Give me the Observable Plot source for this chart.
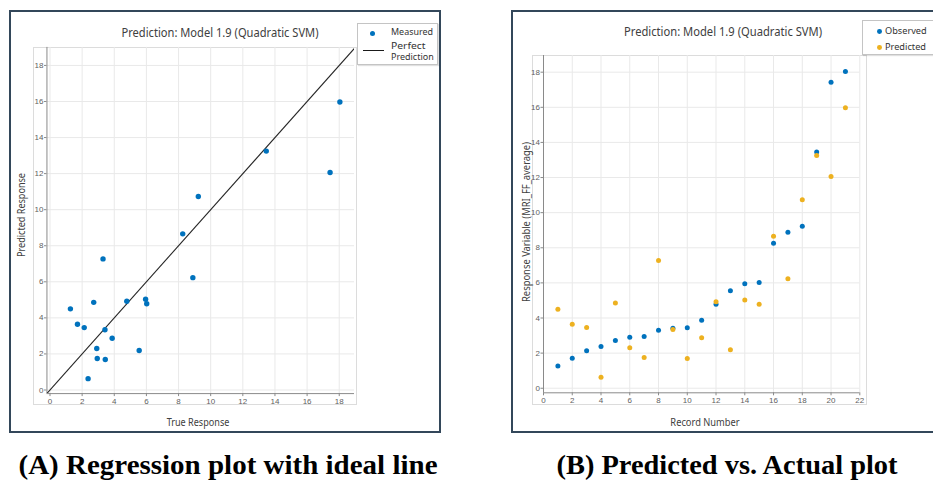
<!DOCTYPE html>
<html><head><meta charset="utf-8">
<script src="https://cdn.jsdelivr.net/npm/d3@7"></script>
<script src="https://cdn.jsdelivr.net/npm/@observablehq/plot@0.6"></script>
<style>
body{margin:0;background:#fff;overflow:hidden;}
#page{position:relative;width:933px;height:481px;overflow:hidden;background:#fff;font-family:"Noto Sans",sans-serif;}
.frame{position:absolute;border:2px solid #33475a;box-sizing:border-box;background:#fff;}
.box{position:absolute;border:1px solid #dcdcdc;box-sizing:border-box;}
.legend{position:absolute;border:1px solid #c4c4c4;box-sizing:border-box;background:#fff;box-shadow:1px 1px 1px rgba(0,0,0,0.12);}
.t{position:absolute;white-space:nowrap;line-height:1;}
.svgwrap{position:absolute;}
.dot{position:absolute;border-radius:50%;}
</style>
</head><body>
<div id="page"></div>
<script>
// ---- data ----
const records   = [1,2,3,4,5,6,7,8,9,10,11,12,13,14,15,16,17,18,19,20,21];
const observed  = [1.27,1.71,2.13,2.37,2.72,2.91,2.94,3.30,3.42,3.44,3.87,4.78,5.55,5.95,6.02,8.26,8.89,9.23,13.46,17.43,18.04];
const predicted = [4.50,3.65,3.46,0.63,4.86,2.30,1.75,7.27,3.34,1.69,2.87,4.92,2.19,5.03,4.78,8.66,6.23,10.73,13.25,12.06,15.97];
const ticksA  = [0,2,4,6,8,10,12,14,16,18];
const ticksBx = [0,2,4,6,8,10,12,14,16,18,20,22];
const ticksBy = [0,2,4,6,8,10,12,14,16,18];
const xDomA = [-0.19, 18.95], yDomA = [-0.2, 19];
const xDomB = [0, 22],        yDomB = [-0.26, 18.95];
const perfectRange = [-0.2, 19];
const titleText = "Prediction: Model 1.9 (Quadratic SVM)";
const BLUE = "#0072BD", ORANGE = "#EDB120";

const page = document.getElementById("page");
function el(cls, css){const d=document.createElement("div");d.className=cls;Object.assign(d.style,css);page.appendChild(d);return d;}

// frames
el("frame",{left:"9px",top:"10px",width:"432px",height:"423px"});
el("frame",{left:"511px",top:"10px",width:"440px",height:"423px"});
// axes boxes
el("box",{left:"33px",top:"47px",width:"324px",height:"358px"});
el("box",{left:"532px",top:"55px",width:"335px",height:"350px"});

const pairs = records.map((r,i)=>({rec:r, obs:observed[i], pred:predicted[i]}));
const tickStyle = {background:"transparent", fontFamily:"'Liberation Sans', Arial, sans-serif", fontSize:"8px", color:"#606060", overflow:"visible"};

// ---- Panel A ----
const plotA = Plot.plot({
  width: 441, height: 432,
  marginLeft: 46.45, marginRight: 87, marginTop: 46.9, marginBottom: 38.9,
  style: tickStyle,
  x: {domain: xDomA},
  y: {domain: yDomA},
  marks: [
    Plot.gridX(ticksA, {stroke:"#e9e9e9", strokeOpacity:1}),
    Plot.gridY(ticksA, {stroke:"#e9e9e9", strokeOpacity:1}),
    Plot.ruleX([xDomA[0]], {stroke:"#8a8a8a"}),
    Plot.ruleY([yDomA[0]], {stroke:"#8a8a8a"}),
    Plot.axisX(ticksA, {tickSize:3, tickPadding:1.5, stroke:"#8a8a8a", fill:"#606060", label:null}),
    Plot.axisY(ticksA, {tickSize:2.5, tickPadding:1, stroke:"#8a8a8a", fill:"#606060", label:null}),
    Plot.link([perfectRange], {x1:d=>d[0], y1:d=>d[0], x2:d=>d[1], y2:d=>d[1], stroke:"#262626", strokeWidth:1.1, clip:true}),
    Plot.dot(pairs, {x:"obs", y:"pred", r:2.7, fill:BLUE, stroke:"none"})
  ]
});
const wa = el("svgwrap",{left:"0px",top:"0px"}); wa.appendChild(plotA);

// ---- Panel B ----
const longB = [];
pairs.forEach(d=>{longB.push({rec:d.rec, v:d.obs, s:"Observed"}); longB.push({rec:d.rec, v:d.pred, s:"Predicted"});});
const plotB = Plot.plot({
  width: 422, height: 432,
  marginLeft: 32, marginRight: 73.7, marginTop: 55, marginBottom: 39.7,
  style: tickStyle,
  x: {domain: xDomB},
  y: {domain: yDomB},
  color: {domain:["Observed","Predicted"], range:[BLUE, ORANGE]},
  marks: [
    Plot.gridX(ticksBx, {stroke:"#e9e9e9", strokeOpacity:1}),
    Plot.gridY(ticksBy, {stroke:"#e9e9e9", strokeOpacity:1}),
    Plot.ruleX([xDomB[0]], {stroke:"#8a8a8a"}),
    Plot.ruleY([yDomB[0]], {stroke:"#8a8a8a"}),
    Plot.axisX(ticksBx, {tickSize:3, tickPadding:1.5, stroke:"#8a8a8a", fill:"#606060", label:null}),
    Plot.axisY(ticksBy, {tickSize:2.5, tickPadding:1, stroke:"#8a8a8a", fill:"#606060", label:null}),
    Plot.dot(longB, {x:"rec", y:"v", fill:"s", r:2.5, stroke:"none"})
  ]
});
const wb = el("svgwrap",{left:"511px",top:"0px"}); wb.appendChild(plotB);

// ---- text helpers (fit text to measured width in reference) ----
function text(str, o){
  const d = el("t",{left:o.x+"px", top:o.y+"px", fontSize:o.size+"px", color:o.color||"#404040",
    fontFamily:o.font||"'Noto Sans', sans-serif", fontWeight:o.weight||"normal"});
  d.textContent = str;
  const w = d.getBoundingClientRect().width;
  const s = o.w ? o.w / w : 1;
  if (o.anchor === "start") {
    d.style.transformOrigin = "0 50%";
    d.style.transform = `translateY(-50%) scaleX(${s})`;
  } else if (o.rotate) {
    d.style.transformOrigin = "50% 50%";
    d.style.transform = `translate(-50%,-50%) rotate(-90deg) scaleX(${s})`;
  } else {
    d.style.transformOrigin = "50% 50%";
    d.style.transform = `translate(-50%,-50%) scaleX(${s})`;
  }
  return d;
}

// titles
text(titleText, {x:219.5, y:32.5, size:12, w:197});
text(titleText, {x:722.5, y:31.7, size:12, w:198});
// axis labels
text("True Response", {x:198, y:422, size:10, w:62.7});
text("Record Number", {x:704.7, y:421.7, size:10, w:69.3});
text("Predicted Response", {x:20.7, y:215, size:10, w:84, rotate:true});
text("Response Variable (MRI_FF_average)", {x:525.7, y:221.7, size:10, w:160, rotate:true});

// legend A
el("legend",{left:"357px",top:"23px",width:"81px",height:"42px"});
el("dot",{left:(372.7-2.7)+"px",top:(33.3-2.7)+"px",width:"5.4px",height:"5.4px",background:BLUE});
el("dot",{left:"363px",top:"50px",width:"21px",height:"1.3px",background:"#1a1a1a",borderRadius:"0"});
text("Measured", {x:390.7, y:32.3, size:9.5, w:42, anchor:"start", color:"#333"});
text("Perfect", {x:390.7, y:45.5, size:9.5, w:34.5, anchor:"start", color:"#333"});
text("Prediction", {x:390.7, y:57, size:9.5, w:42.7, anchor:"start", color:"#333"});

// legend B
el("legend",{left:"862px",top:"20px",width:"90px",height:"35px"});
el("dot",{left:(879.5-2.4)+"px",top:(31.3-2.4)+"px",width:"4.8px",height:"4.8px",background:BLUE});
el("dot",{left:(879.5-2.4)+"px",top:(47.5-2.4)+"px",width:"4.8px",height:"4.8px",background:ORANGE});
text("Observed", {x:884.5, y:31, size:9.5, w:41.7, anchor:"start", color:"#333"});
text("Predicted", {x:884.5, y:47, size:9.5, w:41, anchor:"start", color:"#333"});

// captions
text("(A) Regression plot with ideal line", {x:227.5, y:465, size:28, w:419, font:"'Liberation Serif', serif", weight:"bold", color:"#000"});
text("(B) Predicted vs. Actual plot", {x:727, y:465, size:28, w:341, font:"'Liberation Serif', serif", weight:"bold", color:"#000"});
</script>
</body></html>
